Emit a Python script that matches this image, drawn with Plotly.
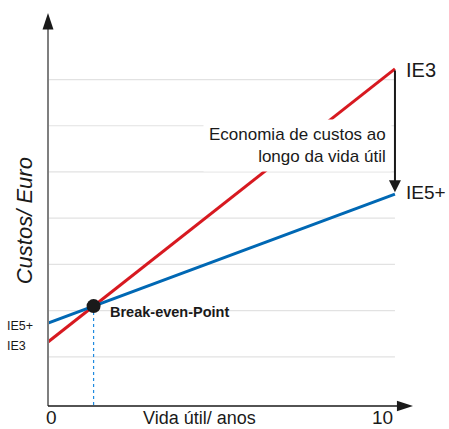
import plotly.graph_objects as go

# ---- data ----
years = [0, 10]
ie3_cost = [1.32, 7.23]      # red line
ie5_cost = [1.73, 4.52]      # blue line
grid_vals = [1, 2, 3, 4, 5, 6, 7]
x_tick_labels = ["0", "10"]
series_names = ["IE3", "IE5+"]

# break-even point from the two lines
s3 = (ie3_cost[1] - ie3_cost[0]) / (years[1] - years[0])
s5 = (ie5_cost[1] - ie5_cost[0]) / (years[1] - years[0])
be_x = (ie5_cost[0] - ie3_cost[0]) / (s3 - s5)
be_y = ie3_cost[0] + s3 * be_x

NARROW = "Liberation Sans Narrow, Arial Narrow, Liberation Sans, Arial, sans-serif"
RED = "#d71920"
BLUE = "#0068b4"

fig = go.Figure()

# gridlines
for g in grid_vals:
    fig.add_shape(type="line", xref="x", yref="y", x0=years[0], x1=years[1], y0=g, y1=g,
                  line=dict(color="#e2e2e2", width=1.2), layer="below")

# dotted break-even drop line
fig.add_trace(go.Scatter(x=[be_x, be_x], y=[be_y, -0.065], mode="lines",
                         line=dict(color="#1f8ae0", width=1.2, dash="dot"), hoverinfo="skip"))

fig.add_trace(go.Scatter(x=years, y=ie3_cost, mode="lines", line=dict(color=RED, width=3), name="IE3"))
fig.add_trace(go.Scatter(x=years, y=ie5_cost, mode="lines", line=dict(color=BLUE, width=3), name="IE5+"))
fig.add_trace(go.Scatter(x=[be_x], y=[be_y], mode="markers",
                         marker=dict(color="#1a1a1a", size=14), hoverinfo="skip"))

# axes lines (paper coords)
fig.add_shape(type="line", xref="paper", yref="paper", x0=0, x1=0, y0=0, y1=0.96,
              line=dict(color="#7f7f7f", width=2))
fig.add_shape(type="path", xref="paper", yref="paper",
              path="M -0.015 0.958 L 0.015 0.958 L 0 1 Z", fillcolor="#1a1a1a", line=dict(width=0))
fig.add_shape(type="line", xref="paper", yref="paper", x0=0, x1=0.96, y0=0, y1=0,
              line=dict(color="#1a1a1a", width=1.5))
fig.add_shape(type="path", xref="paper", yref="paper",
              path="M 0.956 -0.0135 L 0.956 0.0135 L 1 0 Z", fillcolor="#1a1a1a", line=dict(width=0))

ann = []
# savings text (white box hides the red line behind it)
ann.append(dict(x=years[1], y=(ie3_cost[1] + ie5_cost[1]) / 2 - 0.3, xref="x", yref="y",
                xanchor="right", yanchor="middle", xshift=-3, showarrow=False, align="right",
                text="Economia de custos ao<br>longo da vida útil", bgcolor="white", borderpad=5,
                font=dict(family=NARROW, size=17, color="#1a1a1a")))
# savings arrow
ann.append(dict(x=years[1], y=ie5_cost[1] + 0.04, ax=years[1], ay=ie3_cost[1], xref="x", yref="y",
                axref="x", ayref="y", showarrow=True, arrowhead=2, arrowsize=1.2,
                arrowwidth=2, arrowcolor="#1a1a1a", text=""))
# right labels
ann.append(dict(x=years[1], y=ie3_cost[1], xref="x", yref="y", xanchor="left", yanchor="middle",
                xshift=9, yshift=-1, showarrow=False, text=series_names[0],
                font=dict(family=NARROW, size=20, color="#1a1a1a")))
ann.append(dict(x=years[1], y=ie5_cost[1], xref="x", yref="y", xanchor="left", yanchor="middle",
                xshift=10, yshift=2, showarrow=False, text=series_names[1], borderpad=0,
                font=dict(family=NARROW, size=19, color="#1a1a1a")))
# left labels
ann.append(dict(x=0, y=ie5_cost[0], xref="paper", yref="y", xanchor="right", yanchor="middle",
                xshift=-13, yshift=-3, showarrow=False, text=series_names[1],
                font=dict(family=NARROW, size=12.5, color="#1a1a1a")))
ann.append(dict(x=0, y=ie3_cost[0], xref="paper", yref="y", xanchor="right", yanchor="middle",
                xshift=-20, yshift=-4, showarrow=False, text=series_names[0],
                font=dict(family=NARROW, size=12.5, color="#1a1a1a")))
# break-even label
ann.append(dict(x=be_x, y=be_y, xref="x", yref="y", xanchor="left", yanchor="middle",
                xshift=14, yshift=-6, showarrow=False, text="<b>Break-even-Point</b>",
                font=dict(family="Liberation Sans, Arial, sans-serif", size=14.5, color="#1a1a1a")))
# x tick labels
ann.append(dict(x=years[0], y=0, xref="x", yref="paper", xanchor="center", yanchor="bottom",
                xshift=3, yshift=-23, showarrow=False, text=x_tick_labels[0], borderpad=0,
                font=dict(family=NARROW, size=19, color="#1a1a1a")))
ann.append(dict(x=years[1], y=0, xref="x", yref="paper", xanchor="right", yanchor="bottom",
                xshift=-1, yshift=-23, showarrow=False, text=x_tick_labels[1], borderpad=0,
                font=dict(family=NARROW, size=19, color="#1a1a1a")))
# axis titles
ann.append(dict(x=0.415, y=0, xref="paper", yref="paper", xanchor="center", yanchor="bottom",
                yshift=-23, showarrow=False, text="Vida útil/ anos", borderpad=0,
                font=dict(family=NARROW, size=18, color="#1a1a1a")))
ann.append(dict(x=0, y=0.47, xref="paper", yref="paper", xanchor="center", yanchor="middle",
                xshift=-24, showarrow=False, text="<i>Custos/ Euro</i>", textangle=-90,
                font=dict(family=NARROW, size=22, color="#1a1a1a")))

fig.update_layout(
    width=449, height=429,
    margin=dict(l=48, r=36, t=13, b=23),
    paper_bgcolor="white", plot_bgcolor="white",
    showlegend=False,
    xaxis=dict(range=[0, 10.52], visible=False, fixedrange=True),
    yaxis=dict(range=[-0.065, 8.44], visible=False, fixedrange=True),
    annotations=ann,
)

fig.write_html("out.html", config={"displayModeBar": False},
               post_script="document.body.style.margin='0';document.body.style.overflow='hidden';")
